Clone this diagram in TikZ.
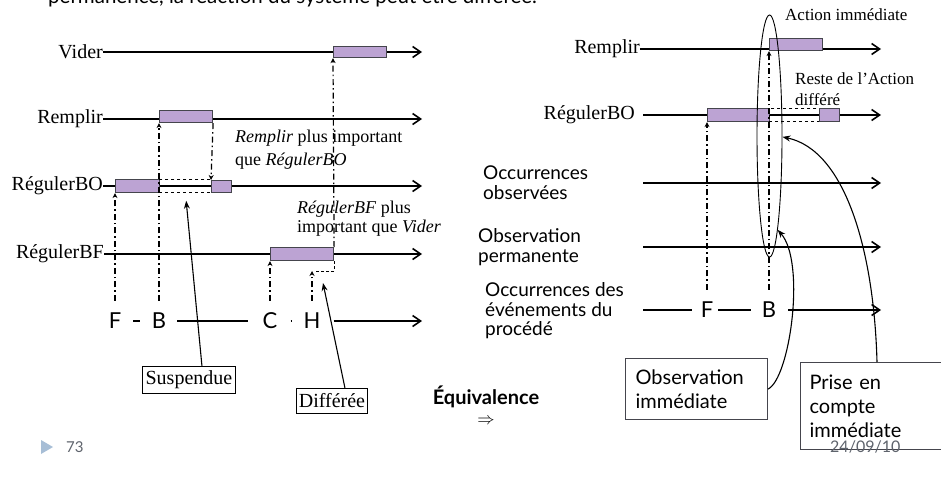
\documentclass[tikz,border=0pt]{standalone}
\usepackage{fontspec}
\setmainfont{Liberation Serif}
\newfontfamily\gill{Lato}
\usetikzlibrary{arrows.meta,positioning,shapes.geometric,calc}
\definecolor{cact}{HTML}{BCA3D3}
\definecolor{cedge}{HTML}{45454D}
\definecolor{cfoot}{HTML}{A7BED6}
\definecolor{cnum}{HTML}{5E636C}
\tikzset{
  tline/.style={line width=1.6pt, -{Straight Barb[length=8pt,width=11pt]}},
  seg/.style={line width=1.3pt},
  act/.style={draw=cedge, line width=1.1pt, fill=cact, inner sep=0pt, anchor=north west},
  susp/.style={draw=black, dashed, line width=0.8pt, inner sep=0pt, anchor=north west},
  trig/.style={line width=1.2pt, dash pattern=on 6pt off 3pt on 1.5pt off 3pt, -{Stealth[length=5pt,width=5pt]}, shorten <=12pt},
  waitline/.style={line width=1pt, dash pattern=on 3pt off 2pt},
  lname/.style={font=\fontsize{20}{22}\selectfont, anchor=east, inner sep=0pt},
  ev/.style={font=\gill\fontsize{22}{24}\selectfont, inner sep=0pt},
  rowl/.style={font=\gill\fontsize{19}{20}\selectfont, align=left, anchor=west, inner sep=0pt},
  note/.style={font=\fontsize{18}{23}\selectfont, align=left, anchor=north west, inner sep=0pt},
  tag/.style={draw, line width=0.9pt, font=\fontsize{20}{22}\selectfont, inner sep=1pt, anchor=north west},
  cbox/.style={draw=cedge, line width=1.1pt, font=\gill\fontsize{20}{24}\selectfont, align=left, anchor=north west, inner ysep=4pt},
  pointer/.style={line width=1.1pt, -{Stealth[length=8pt,width=6pt]}},
  foot/.style={font=\gill\fontsize{15}{15}\selectfont, text=cnum, anchor=west, inner sep=0pt},
}

\begin{document}
\begin{tikzpicture}[x=1pt,y=-1pt]
\clip (0,0) rectangle (941,479);
\node[font=\gill\fontsize{20.5}{24}\selectfont, anchor=base west, inner sep=0pt] (intro) at (48,4) {permanence, la réaction du système peut être différée.};
\coordinate (lend) at (422,0);
\coordinate (rstart) at (643,0);
\coordinate (rend) at (881,0);

% left: the four actions and the process events
\node[lname] (lvid) at (103,52) {Vider};
\node[lname] (lrem) at (103,119) {Remplir};
\node[lname] (lbo) at (103,186) {RégulerBO};
\node[lname] (lbf) at (104,254) {RégulerBF};
\draw[tline] (lvid.east) -- (lvid.east -| lend);
\draw[tline] (lrem.east) -- (lrem.east -| lend);
\draw[tline] (lbo.east) -- (lbo.east -| lend);
\draw[tline] (lbf.east) -- (lbf.east -| lend);

\node[act, minimum width=53, minimum height=11] (vid) at (333,46) {};
\node[act, minimum width=53, minimum height=12] (rem) at (159,110) {};
\node[act, minimum width=44, minimum height=13] (bo1) at (115,179) {};
\node[susp, minimum width=52, minimum height=13] (bosus) at (159,179) {};
\node[act, minimum width=20, minimum height=12] (bo2) at (211,180) {};
\node[act, minimum width=63, minimum height=13] (bf) at (270,247) {};

\node[ev] (tF) at (115,321) {F};
\node[ev] (tB) at (159,321) {B};
\node[ev] (tC) at (270,321) {C};
\node[ev] (tH) at (312,321) {H};
\draw[seg, shorten <=12pt, shorten >=12pt] (tF.east) -- (tB.west);
\draw[seg, shorten <=11pt, shorten >=14pt] (tB.east) -- (tC.west);
\draw[seg, shorten <=13pt, shorten >=11pt] (tC.east) -- (tH.west);
\draw[tline, shorten <=13pt] (tH.east) -- (tH.east -| lend);

\draw[trig] (tF.north) -- (bo1.south west);
\draw[trig] (tB.north) -- (rem.south west);
\draw[trig, shorten <=0pt] (rem.south east) -- (bo2.north west);
\draw[trig] (tC.north) -- (bf.south west);
\draw[trig, shorten <=0pt] (bf.north east) -- (vid.south west);
\coordinate (hk) at (312,271);
\draw[trig] (tH.north) -- (hk);
\draw[waitline, shorten >=3pt] (bf.south east) |- (hk);

\node[note] (n1) at (235,130) {\textit{Remplir} plus important\\que \textit{RégulerBO}};
\node[note, font=\fontsize{18}{19}\selectfont] (n2) at (297,201) {\textit{RégulerBF} plus\\important que \textit{Vider}};

\node[tag, minimum width=93, minimum height=27] (suspn) at (142,366) {Suspendue};
\node[tag, minimum width=71, minimum height=25] (diffn) at (296,388) {Différée};
\coordinate (wait) at (323,283);
\draw[pointer, shorten >=8pt] ($(suspn.north)+(13,0)$) -- (bosus.south);
\draw[pointer] ($(diffn.north)+(13,0)$) -- (wait);

\node[font=\gill\bfseries\fontsize{20}{22}\selectfont, inner sep=0pt] (equiv) at (486,397) {Équivalence};
\node[below=10pt of equiv, inner sep=0pt, font=\fontsize{18}{20}\selectfont] (impl) {$\Rightarrow$};

% right: immediate observation
\node[lname] (rrl) at (640,49) {Remplir};
\node[lname] (rbl) at (635,115) {RégulerBO};
\draw[tline] (rrl.east) -- (rrl.east -| rend);
\draw[tline, shorten <=8pt] (rbl.east) -- (rbl.east -| rend);
\node[rowl] (occ) at (483,183) {Occurrences\\observées};
\node[rowl] (perm) at (478,247) {Observation\\permanente};
\node[rowl, font=\gill\fontsize{19}{19.5}\selectfont] (proc) at (485,311) {Occurrences des\\événements du\\procédé};
\draw[tline] (occ.east -| rstart) -- (occ.east -| rend);
\draw[tline] (perm.east -| rstart) -- (perm.east -| rend);

\node[act, minimum width=53, minimum height=12] (rrem) at (769,38) {};
\node[act, minimum width=62, minimum height=13] (rbo1) at (707,108) {};
\node[susp, minimum width=50, minimum height=13] (rsus) at (769,108) {};
\node[act, minimum width=20, minimum height=13] (rbo2) at (819,108) {};

\node[ev] (rF) at (707,310) {F};
\node[ev] (rB) at (769,310) {B};
\draw[seg, shorten >=9pt] (rstart |- rF) -- (rF.west);
\draw[seg, shorten <=5pt, shorten >=11pt] (rF.east) -- (rB.west);
\draw[tline, shorten <=12pt] (rB.east) -- (rB.east -| rend);
\draw[trig] (rF.north) -- (rbo1.south west);
\draw[trig] (rB.north) -- (rrem.south west);

\node[font=\fontsize{17}{20}\selectfont, anchor=base west, inner sep=0pt] (acti) at (785,20) {Action immédiate};
\node[note, font=\fontsize{17}{21}\selectfont] (reste) at (795,73) {Reste de l'Action\\différé};

\node[draw, ellipse, line width=0.9pt, minimum width=25, minimum height=242, inner sep=0pt] (focus) at (769.5,136) {};

\node[cbox, text width=122pt, inner xsep=10pt, minimum height=61] (obsn) at (625,358) {Observation\\immédiate};
\node[cbox, text width=150pt, inner xsep=9pt, minimum height=87] (prise) at (800,362) {Prise en\\compte\\immédiate};
\draw[pointer] (obsn.east) .. controls (790,378) and (806,262) .. (focus.-85);
\draw[pointer] ($(prise.north west)+(77,0)$) .. controls (874,250) and (845,150) .. (focus.-4);

\fill[cfoot] (41,440) -- (53,447) -- (41,454) -- cycle;
\node[foot] (pnum) at (66,447) {73};
\node[foot, font=\gill\fontsize{16}{16}\selectfont] (pdate) at (830,447) {24/09/10};
\end{tikzpicture}
\end{document}
